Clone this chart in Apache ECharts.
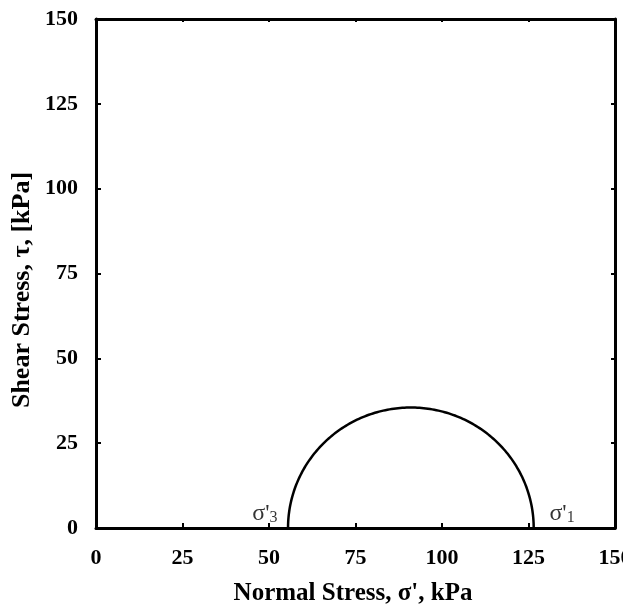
<!DOCTYPE html>
<html><head><meta charset="utf-8">
<script src="https://cdn.jsdelivr.net/npm/echarts@6/dist/echarts.min.js"></script>
<style>html,body{margin:0;padding:0;background:#fff;overflow:hidden}#c{width:623px;height:610px}</style>
</head><body><div id="c"></div>
<script>
var xTicks = [0, 25, 50, 75, 100, 125, 150];
var yTicks = [0, 25, 50, 75, 100, 125, 150];
var sigma3 = 55.5;
var sigma1 = 126.5;
var circleLabels = [
  {value: [48.8, 4.7], sub: '3'},
  {value: [134.7, 4.7], sub: '1'}
];
var xTitle = "Normal Stress, σ', kPa";
var yTitle = 'Shear Stress, τ, [kPa]';
var FONT = '"Liberation Serif", "Times New Roman", serif';
var chart = echarts.init(document.getElementById('c'));
function axisBase(pos, showLabel, tickLen){
  return {
    type: 'value', position: pos, min: 0, max: 150, interval: 25,
    axisLine: {show: true, onZero: false, lineStyle: {color: '#000', width: 3}},
    axisTick: {show: true, inside: true, length: tickLen, lineStyle: {color: '#000', width: 2}},
    axisLabel: {show: showLabel, color: '#000', fontFamily: FONT, fontWeight: 'bold', fontSize: 22},
    splitLine: {show: false}
  };
}
var xa = axisBase('bottom', true, 5);
xa.axisLabel.margin = 19;
xa.axisLabel.formatter = function(v){ return xTicks.indexOf(v) >= 0 ? String(v) : ''; };
var ya = axisBase('left', true, 5);
ya.axisLabel.margin = 18;
ya.axisLabel.formatter = function(v){ return yTicks.indexOf(v) >= 0 ? String(v) : ''; };
var xTop = axisBase('top', false, 3);
var yRight = axisBase('right', false, 4);
chart.setOption({
  animation: false,
  grid: {left: 96, right: 8, top: 19, bottom: 82, containLabel: false, outerBoundsMode: 'none'},
  xAxis: [xa, xTop],
  yAxis: [ya, yRight],
  graphic: [
    {type: 'text', x: 353, y: 594,
     style: {text: xTitle, fill: '#000', font: 'bold 25px ' + FONT, align: 'center', verticalAlign: 'middle'}},
    {type: 'text', x: 22, y: 290, rotation: Math.PI / 2,
     style: {text: yTitle, fill: '#000', font: 'bold 26px ' + FONT, align: 'center', verticalAlign: 'middle'}}
  ],
  series: [
    {
      type: 'custom', xAxisIndex: 0, yAxisIndex: 0,
      data: [[sigma3, sigma1]],
      renderItem: function(params, api){
        var s3 = api.value(0), s1 = api.value(1);
        var c = (s3 + s1) / 2, r = (s1 - s3) / 2;
        var pts = [];
        for (var i = 0; i <= 180; i++) {
          var a = Math.PI * i / 180;
          pts.push(api.coord([c + r * Math.cos(a), r * Math.sin(a)]));
        }
        return {type: 'polyline', shape: {points: pts}, style: {stroke: '#000', lineWidth: 2.5, fill: null}};
      },
      silent: true
    },
    {
      type: 'scatter', xAxisIndex: 0, yAxisIndex: 0, symbolSize: 0,
      data: circleLabels.map(function(d){ return {value: d.value, sub: d.sub}; }),
      label: {
        show: true, position: 'inside',
        formatter: function(p){ return '{a|σ\'}{b|' + p.data.sub + '}'; },
        rich: {
          a: {fontFamily: FONT, fontSize: 24, color: '#000', verticalAlign: 'bottom'},
          b: {fontFamily: FONT, fontSize: 16, color: '#000', padding: [12, 0, 0, 0], verticalAlign: 'bottom'}
        }
      },
      silent: true
    }
  ]
});
</script></body></html>
